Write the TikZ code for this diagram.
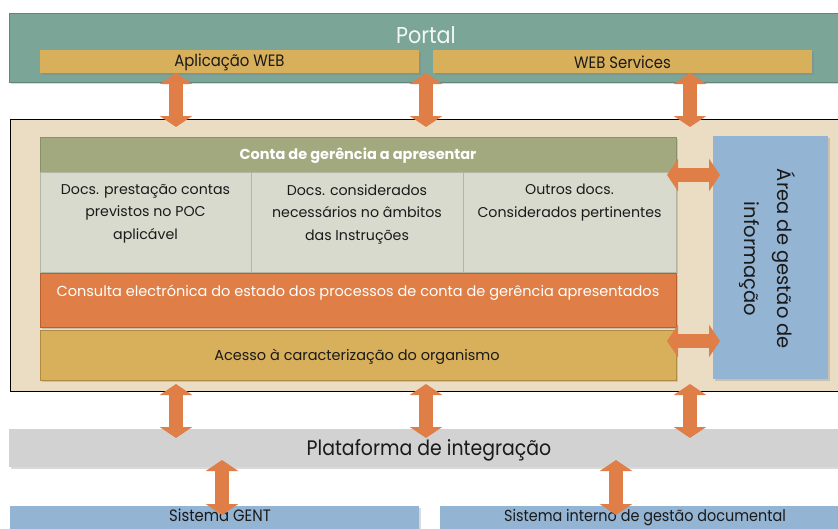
\documentclass[tikz,border=0pt]{standalone}
\usepackage{fontspec}
\setmainfont{Poppins}
\newfontfamily\tw[FakeStretch=0.9]{Poppins}
\usetikzlibrary{arrows.meta,shadows,calc}
\definecolor{teal}{HTML}{7AA597}
\definecolor{gold}{HTML}{D8AF5A}
\definecolor{goldb}{HTML}{B08A40}
\definecolor{tan}{HTML}{EBDDC3}
\definecolor{hgreen}{HTML}{A2A97E}
\definecolor{hgreenb}{HTML}{8A9068}
\definecolor{dgray}{HTML}{D8DACD}
\definecolor{dgrayb}{HTML}{B3B6A3}
\definecolor{orng}{HTML}{DF7F47}
\definecolor{orngb}{HTML}{B9602F}
\definecolor{blu}{HTML}{93B4D3}
\definecolor{plat}{HTML}{D3D2D2}
\definecolor{arr}{HTML}{E07E48}
\definecolor{ink}{HTML}{1A1A1A}
\tikzset{
  box/.style={anchor=north west, inner sep=0pt, outer sep=0pt,
    drop shadow={shadow xshift=1.5pt, shadow yshift=-1.5pt, opacity=0.3}},
  dbl/.style={draw=arr, line width=14pt,
    {Triangle[length=11pt,width=32pt]}-{Triangle[length=11pt,width=32pt]}},
  lbl/.style={text=ink, inner sep=0pt},
}
\begin{document}
\begin{tikzpicture}[x=1pt,y=-1pt]
\useasboundingbox (0,0) rectangle (838,528);
% Portal
\node[box, fill=teal, draw=teal!80!black, line width=0.6pt, minimum width=840pt, minimum height=69pt] (portal) at (9,13) {};
\node[text=white!92!teal, font=\tw\fontsize{23}{26}\selectfont] (portalt) at (426,35) {Portal};
\node[box, fill=gold, minimum width=379pt, minimum height=23pt] (app) at (40,50) {};
\node[lbl, font=\tw\fontsize{16.5}{18}\selectfont] at ([yshift=-1pt]app.center) {Aplicação WEB};
\node[box, fill=gold, minimum width=379pt, minimum height=23pt] (ws) at (433,50) {};
\node[lbl, font=\tw\fontsize{16.5}{18}\selectfont] at ([yshift=-1pt]ws.center) {WEB Services};
% container
\node[anchor=north west, fill=tan, draw=black, line width=1pt, minimum width=840pt, minimum height=272pt, inner sep=0pt] (cont) at (10,119) {};
% header
\node[box, fill=hgreen, draw=hgreenb, line width=0.8pt, minimum width=636pt, minimum height=35pt] (hdr) at (40,137) {};
\node[text=white, inner sep=0pt, font=\bfseries\fontsize{14.5}{16}\selectfont] at ([yshift=-1pt]hdr.center) {Conta de gerência a apresentar};
% docs
\node[box, fill=dgray, draw=dgrayb, line width=0.8pt, minimum width=211pt, minimum height=100pt] (d1) at (40,172) {};
\node[box, fill=dgray, draw=dgrayb, line width=0.8pt, minimum width=212pt, minimum height=100pt] (d2) at (251,172) {};
\node[box, fill=dgray, draw=dgrayb, line width=0.8pt, minimum width=213pt, minimum height=100pt] (d3) at (463,172) {};
\tikzset{doc/.style={lbl, anchor=north, align=center, font=\fontsize{14.2}{22.5}\selectfont}}
\node[doc] at ([yshift=-12pt]d1.north) {Docs. prestação contas\\previstos no POC\\aplicável};
\node[doc] at ([yshift=-12pt]d2.north) {Docs. considerados\\necessários no âmbitos\\das Instruções};
\node[doc] at ([yshift=-12pt]d3.north) {Outros docs.\\Considerados pertinentes};
% orange
\node[box, fill=orng, draw=orngb, line width=0.8pt, minimum width=636pt, minimum height=54pt] (cons) at (40,273) {};
\node[text=white, inner sep=0pt, font=\fontsize{14.5}{16}\selectfont] at (358,293) {Consulta electrónica do estado dos processos de conta de gerência apresentados};
% acesso
\node[box, fill=gold, draw=goldb, line width=0.8pt, minimum width=636pt, minimum height=50pt] (ac) at (40,330) {};
\node[lbl, font=\fontsize{14.5}{16}\selectfont] at (357,357) {Acesso à caracterização do organismo};
% area
\node[box, fill=blu, minimum width=115pt, minimum height=243pt] (area) at (713,136) {};
\node[lbl, rotate=-90, align=center, font=\fontsize{19.5}{33}\selectfont] at (767,259) {Área de gestão de\\informação};
% plataforma
\node[box, fill=plat, minimum width=840pt, minimum height=38pt] (plat) at (9,429) {};
\node[lbl, font=\tw\fontsize{21}{24}\selectfont] at (429,450) {Plataforma de integração};
% bottom systems
\node[box, fill=blu, minimum width=409pt, minimum height=30pt] (gent) at (10,506) {};
\node[lbl, font=\tw\fontsize{16.5}{19}\selectfont, anchor=base, text depth=0pt] at (220,521) {Sistema GENT};
\node[box, fill=blu, minimum width=400pt, minimum height=30pt] (sigd) at (440,506) {};
\node[lbl, font=\tw\fontsize{16}{19}\selectfont, anchor=base, text depth=0pt] at (645,521) {Sistema interno de gestão documental};
% arrow end points
\coordinate (a1) at (app.south -| 176,0);
\coordinate (a2) at (app.south -| 426,0);
\coordinate (a3) at (ws.south -| 690,0);
\coordinate (b1) at (176,127);
\coordinate (b2) at (426,127);
\coordinate (b3) at (690,127);
\coordinate (c1) at (176,384);
\coordinate (c2) at (426,384);
\coordinate (c3) at (690,384);
\coordinate (e1) at (176,438);
\coordinate (e2) at (426,438);
\coordinate (e3) at (690,438);
\coordinate (f1) at (222,460);
\coordinate (f2) at (616,460);
\coordinate (g1) at (222,515);
\coordinate (g2) at (616,515);
\coordinate (h1) at (667,175);
\coordinate (h2) at (720,175);
\coordinate (k1) at (667,341);
\coordinate (k2) at (720,341);
\foreach \p/\q in {a1/b1,a2/b2,a3/b3,c1/e1,c2/e2,c3/e3,f1/g1,f2/g2,h1/h2,k1/k2}{
  \draw[dbl] (\p) -- (\q);
}
\end{tikzpicture}
\end{document}
